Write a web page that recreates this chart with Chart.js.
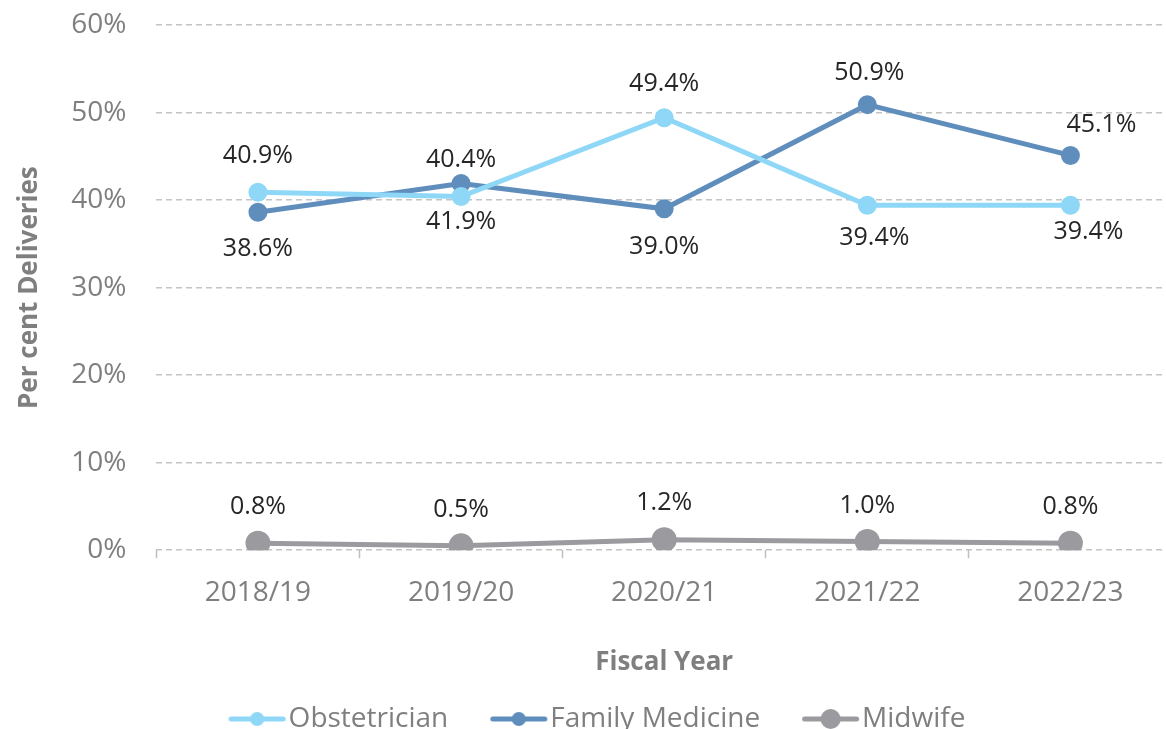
<!DOCTYPE html>
<html>
<head>
<meta charset="utf-8">
<script src="https://cdn.jsdelivr.net/npm/chart.js@4/dist/chart.umd.min.js"></script>
<style>
  html, body { margin: 0; padding: 0; background: #fff; overflow: hidden; }
  #chart { display: block; }
</style>
</head>
<body>
<canvas id="chart" width="1172" height="743"></canvas>
<script>
const years = ["2018/19", "2019/20", "2020/21", "2021/22", "2022/23"]
const obstetrician = [40.9, 40.4, 49.4, 39.4, 39.4]
const familyMedicine = [38.6, 41.9, 39.0, 50.9, 45.1]
const midwife = [0.8, 0.5, 1.2, 1.0, 0.8]

// value label nudges from the point (px), as placed in the original
const obstLabelDy = [-36, -37, -34, 33, 27]
const famLabelDy = [37, 38, 38, -32, -31]
const midLabelDy = [-36, -36, -37, -36, -36]
const obstLabelDx = [0, 0, 0, 7, 18]
const famLabelDx = [0, 0, 0, 2, 31]

const grey = "#7f7f7f"
const font = "'Open Sans', 'Noto Sans', sans-serif"

// line + dot swatch for the legend, drawn off-centre so it hugs the text
function swatch(color, r) {
  const c = document.createElement("canvas")
  c.width = 94
  c.height = 22
  const g = c.getContext("2d")
  g.strokeStyle = color
  g.lineWidth = 5
  g.lineCap = "round"
  g.beginPath()
  g.moveTo(37.5, 11)
  g.lineTo(89.5, 11)
  g.stroke()
  g.fillStyle = color
  g.beginPath()
  g.arc(63.5, 11, r, 0, Math.PI * 2)
  g.fill()
  return c
}

const valueLabels = {
  id: "valueLabels",
  afterDatasetsDraw(chart) {
    const ctx = chart.ctx
    ctx.save()
    ctx.font = "25px " + font
    ctx.fillStyle = "#262626"
    ctx.textAlign = "center"
    ctx.textBaseline = "middle"
    chart.data.datasets.forEach((ds, i) => {
      const meta = chart.getDatasetMeta(i)
      meta.data.forEach((pt, j) => {
        const dx = ds.labelDx ? ds.labelDx[j] : 0
        ctx.fillText(ds.data[j].toFixed(1) + "%", pt.x + dx, pt.y + ds.labelDy[j])
      })
    })
    ctx.restore()
  }
}

const config = {
  type: "line",
  data: {
    labels: years,
    datasets: [
      {
        label: "Obstetrician",
        data: obstetrician,
        borderColor: "#8fd7f7",
        backgroundColor: "#8fd7f7",
        borderWidth: 5,
        pointRadius: 7,
        pointHoverRadius: 7,
        labelDy: obstLabelDy,
        labelDx: obstLabelDx,
        legendStyle: swatch("#8fd7f7", 7)
      },
      {
        label: "Family Medicine",
        data: familyMedicine,
        borderColor: "#5f8ebd",
        backgroundColor: "#5f8ebd",
        borderWidth: 5,
        pointRadius: 7,
        pointHoverRadius: 7,
        labelDy: famLabelDy,
        labelDx: famLabelDx,
        legendStyle: swatch("#5f8ebd", 7)
      },
      {
        label: "Midwife",
        data: midwife,
        borderColor: "#9b9b9f",
        backgroundColor: "#9b9b9f",
        borderWidth: 5,
        pointRadius: 10,
        pointHoverRadius: 10,
        labelDy: midLabelDy,
        legendStyle: swatch("#9b9b9f", 10)
      }
    ]
  },
  options: {
    responsive: false,
    animation: false,
    layout: { autoPadding: false, padding: { top: 25, right: 0, left: 0, bottom: 0 } },
    plugins: {
      legend: {
        position: "bottom",
        labels: {
          usePointStyle: true,
          pointStyleWidth: 68,
          padding: 20,
          color: grey,
          font: { family: font, size: 28 },
          generateLabels(chart) {
            return chart.data.datasets.map((ds, i) => ({
              text: ds.label,
              pointStyle: ds.legendStyle,
              fontColor: grey,
              fillStyle: ds.borderColor,
              strokeStyle: ds.borderColor,
              lineWidth: 0,
              hidden: false,
              datasetIndex: i
            }))
          }
        }
      },
      tooltip: { enabled: false }
    },
    scales: {
      x: {
        offset: true,
        border: { display: false },
        grid: {
          offset: true,
          drawOnChartArea: false,
          drawTicks: true,
          tickLength: 8,
          tickColor: "#bfbfbf",
          tickWidth: 1.5
        },
        ticks: { color: grey, padding: 18, font: { family: font, size: 28 } },
        title: {
          display: true,
          text: "Fiscal Year",
          color: grey,
          font: { family: font, size: 26, weight: "bold" },
          padding: { top: 19, bottom: 7 }
        },
        afterFit(scale) {
          scale.paddingLeft = 0
          scale.paddingRight = 0
        }
      },
      y: {
        min: 0,
        max: 60,
        border: { display: false, dash: [6, 4] },
        grid: { color: "#c4c4c4", lineWidth: 1.5, drawTicks: false },
        ticks: {
          stepSize: 10,
          color: grey,
          padding: 30,
          font: { family: font, size: 28 },
          callback: v => v + "%"
        },
        title: {
          display: true,
          text: "Per cent Deliveries",
          color: grey,
          font: { family: font, size: 26, weight: "bold" },
          padding: { top: 14, bottom: -4 }
        },
        afterFit(scale) {
          scale.paddingTop = 17
          scale.paddingBottom = 17
        }
      }
    }
  },
  plugins: [valueLabels]
}

new Chart(document.getElementById("chart"), config)
</script>
</body>
</html>
